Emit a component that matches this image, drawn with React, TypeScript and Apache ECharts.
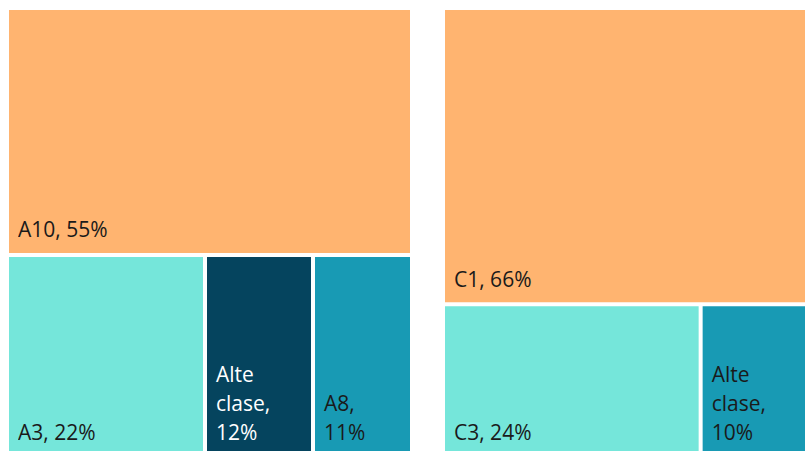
import React, { useEffect, useRef } from "react";
import * as echarts from "echarts";

const leftNames = ["A10", "A3", "Alte clase", "A8"];
const leftValues = [55, 22, 12, 11];
const rightNames = ["C1", "C3", "Alte clase"];
const rightValues = [66, 24, 10];

const leftColors = ["#FFB470", "#75E6DA", "#05445E", "#189AB4"];
const rightColors = ["#FFB470", "#75E6DA", "#189AB4"];
const narrowLimit = 15;

function buildData(names: string[], values: number[], colors: string[]) {
  return names.map((n, i) => ({
    name: n,
    value: values[i],
    itemStyle: { color: colors[i], borderWidth: 0 },
    label: { color: colors[i] === "#05445E" ? "#ffffff" : "#1a1a1a" },
  }));
}

function makeSeries(data: any[], left: number, width: number) {
  return {
    type: "treemap",
    left,
    top: 10,
    width,
    height: 445,
    roam: false,
    nodeClick: false,
    squareRatio: 1,
    breadcrumb: { show: false },
    sort: "desc",
    data,
    levels: [{ itemStyle: { borderWidth: 0, gapWidth: 4 } }],
    label: {
      show: true,
      position: "insideBottomLeft",
      distance: 4,
      fontFamily: "Open Sans",
      fontSize: 21,
      lineHeight: 29,
      overflow: "none",
      formatter: (p: any) => {
        const s = `${p.name}, ${p.value}%`;
        return p.value < narrowLimit ? s.split(" ").join("\n") : s;
      },
    },
  };
}

export default function App() {
  const ref = useRef<HTMLDivElement>(null);
  useEffect(() => {
    document.body.style.margin = "0";
    document.body.style.overflow = "hidden";
    const chart = echarts.init(ref.current!, undefined, { renderer: "svg" });
    chart.setOption({
      animation: false,
      backgroundColor: "#ffffff",
      series: [
        makeSeries(buildData(leftNames, leftValues, leftColors), 9, 401),
        makeSeries(buildData(rightNames, rightValues, rightColors), 445, 361),
      ],
    });
    return () => chart.dispose();
  }, []);
  return <div ref={ref} style={{ width: 805, height: 451 }} />;
}
